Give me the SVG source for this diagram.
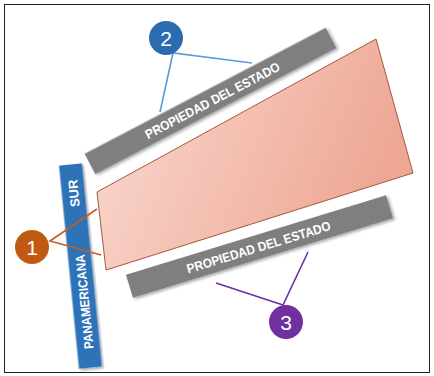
<svg xmlns="http://www.w3.org/2000/svg" width="434" height="376" viewBox="0 0 434 376">
<defs>
<linearGradient id="pink" x1="0" y1="0" x2="1" y2="0.3">
<stop offset="0" stop-color="#fadbd3"/>
<stop offset="1" stop-color="#eea794"/>
</linearGradient>
<filter id="sh" x="-10%" y="-30%" width="120%" height="160%">
<feDropShadow dx="1.5" dy="2" stdDeviation="1.8" flood-color="#000" flood-opacity="0.35"/>
</filter>
</defs>
<style>
.bar{fill:#7f7f7f;filter:url(#sh)}
.road{fill:#2e73b8;filter:url(#sh)}
.lbl{font-family:"Liberation Sans",Arial,sans-serif;font-weight:bold;font-size:13px;fill:#fff;text-anchor:middle}
.num{font-family:"Liberation Sans",Arial,sans-serif;font-size:21px;fill:#fff;text-anchor:middle}
.c{fill:none;stroke-width:1.6}
</style>
<rect x="4.5" y="4.5" width="425" height="368" fill="#fff" stroke="#222" stroke-width="1"/>
<g id="lot">
<polygon points="97,192 376,39 413,173 106,270" fill="url(#pink)" stroke="#a3583a" stroke-width="1"/>
</g>
<g id="estado-top" transform="translate(210.5,101) rotate(-27.6)">
<rect class="bar" x="-136" y="-11.5" width="272" height="23"/>
<text class="lbl" x="2" y="5" textLength="150" lengthAdjust="spacingAndGlyphs">PROPIEDAD DEL ESTADO</text>
</g>
<g id="estado-bottom" transform="translate(259.5,246.5) rotate(-17)">
<rect class="bar" x="-136" y="-12" width="272" height="24"/>
<text class="lbl" x="-1" y="5" textLength="150" lengthAdjust="spacingAndGlyphs">PROPIEDAD DEL ESTADO</text>
</g>
<g id="panamericana" transform="translate(80.5,266) rotate(-5.6)">
<rect class="road" x="-11.5" y="-102" width="23" height="204"/>
<text class="lbl" transform="rotate(-90)" x="73" y="5">SUR</text>
<text class="lbl" transform="rotate(-90)" x="-36" y="5" textLength="95" lengthAdjust="spacingAndGlyphs">PANAMERICANA</text>
</g>
<g id="connectors">
<polyline class="c" stroke="#5b9bd5" points="160,112 173,53 252,63"/>
<polyline class="c" stroke="#c55a22" points="97,209 50,241 101,255"/>
<polyline class="c" stroke="#7030a0" points="216,283 283,305 308,252"/>
</g>
<g id="n2">
<circle cx="166" cy="38" r="17" fill="#2a6bb2"/>
<text class="num" x="166" y="45.5">2</text>
</g>
<g id="n1">
<circle cx="32" cy="247" r="17" fill="#c05a12"/>
<text class="num" x="32" y="254.5">1</text>
</g>
<g id="n3">
<circle cx="286" cy="322" r="17" fill="#7030a0"/>
<text class="num" x="286" y="329.5">3</text>
</g>
</svg>
